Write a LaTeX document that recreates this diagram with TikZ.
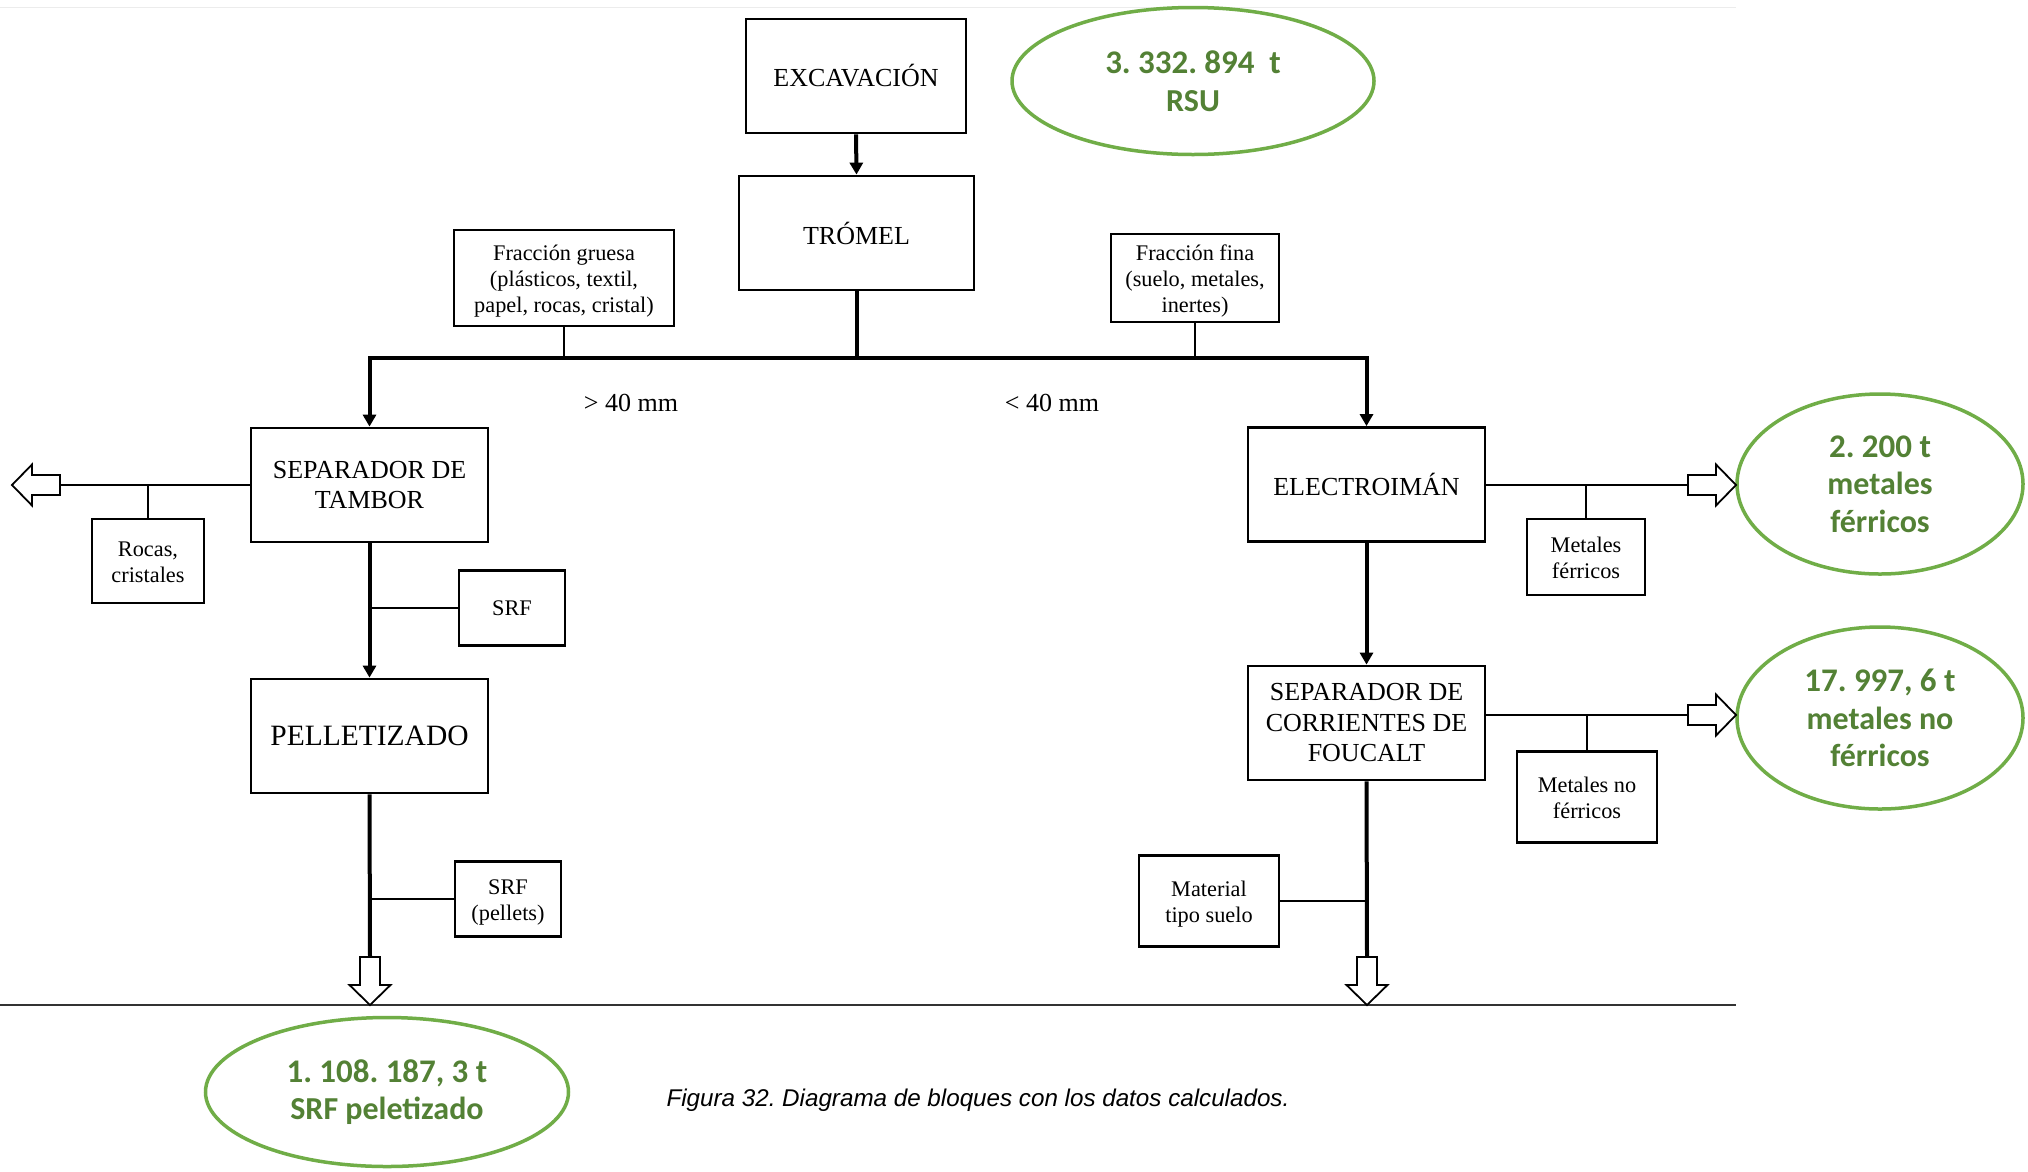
\documentclass[tikz,border=0pt]{standalone}
\usepackage{fontspec}
\setmainfont{Liberation Serif}
\newfontfamily\calib{Carlito}
\newfontfamily\arialf{Liberation Sans}
\usetikzlibrary{arrows.meta,calc,shapes.geometric}
\definecolor{eline}{HTML}{70AD47}
\definecolor{etext}{HTML}{538135}
\frenchspacing
\tikzset{
  box/.style={draw, line width=2.8pt, inner sep=0pt, align=center, fill=white},
  bigbox/.style={box, minimum width=237pt, minimum height=114pt, font=\fontsize{26}{30.5}\selectfont},
  smallbox/.style={box, font=\fontsize{22.3}{26}\selectfont},
  mainline/.style={line width=4pt, line join=miter},
  sideline/.style={line width=2.8pt},
  tip/.style={-{Triangle[length=12pt,width=13pt]}},
  hollow/.style={draw, line width=1.8pt, fill=white, line join=miter},
  hollowarrow/.pic={\path[hollow] (0,-10) -- (28,-10) -- (28,-20.5) -- (48,0) -- (28,20.5) -- (28,10) -- (0,10) -- cycle;},
  result/.style={draw=eline, line width=3.5pt, ellipse, inner sep=0pt, align=center, text=etext,
    font=\calib\bfseries\fontsize{32}{37.5}\selectfont}
}
\newcommand{\gp}{\hspace{0.22em}}
\newcommand{\dn}[1]{\raisebox{-3pt}[\height][\depth]{\begin{tabular}{@{}c@{}}#1\end{tabular}}}
\begin{document}
\begin{tikzpicture}[x=1pt,y=-1pt]
\useasboundingbox[fill=white] (0,0) rectangle (2028,1171);
% faint top rule and bottom rule
\draw[line width=1pt, gray!15] (0,7) -- (1736,7);
\draw[line width=2pt, black!80] (0,1005) -- (1736,1005);

% main boxes
\node[bigbox, minimum width=220pt] (exc) at (856,76) {EXCAVACIÓN};
\node[bigbox, minimum width=235pt] (trom) at (856.5,233) {TRÓMEL};
\node[bigbox] (sept) at (369.5,485) {SEPARADOR DE\\TAMBOR};
\node[bigbox, font=\fontsize{29.5}{34}\selectfont] (pell) at (369.5,736) {PELLETIZADO};
\node[bigbox] (elec) at (1366.5,484.5) {ELECTROIMÁN};
\node[bigbox] (fouc) at (1366.5,723) {SEPARADOR DE\\CORRIENTES DE\\FOUCALT};

% side boxes
\node[smallbox, minimum width=220pt, minimum height=96pt] (fg) at (564,278) {\dn{Fracción gruesa\\(plásticos, textil,\\papel, rocas, cristal)}};
\node[smallbox, minimum width=168pt, minimum height=88pt] (ff) at (1195,278) {\dn{Fracción fina\\(suelo, metales,\\inertes)}};
\node[smallbox, minimum width=112pt, minimum height=84pt] (roc) at (148,561) {\dn{Rocas,\\cristales}};
\node[smallbox, minimum width=106pt, minimum height=75pt] (srf) at (512,608) {SRF};
\node[smallbox, minimum width=106pt, minimum height=75pt] (srfp) at (508,899) {\dn{SRF\\(pellets)}};
\node[smallbox, minimum width=118pt, minimum height=76pt] (mf) at (1586,557) {\dn{Metales\\férricos}};
\node[smallbox, minimum width=140pt, minimum height=91pt] (mnf) at (1587,797) {\dn{Metales no\\férricos}};
\node[smallbox, minimum width=140pt, minimum height=91pt] (mts) at (1209,901) {\dn{Material\\tipo suelo}};

% labels
\node[font=\fontsize{26}{30}\selectfont] (g40) at (631,403) {> 40 mm};
\node[font=\fontsize{26}{30}\selectfont] (l40) at (1052,403) {< 40 mm};

% result ellipses
\node[result, minimum width=362pt, minimum height=147pt] (rsu) at (1193,81)
  {{\fontsize{33}{37}\selectfont 3.\gp332.\gp894\hspace{0.45em}t}\\RSU};
\node[result, minimum width=286pt, minimum height=180pt] (ef) at (1880,484)
  {{\fontsize{33}{37}\selectfont 2.\gp200 t}\\metales\\férricos};
\node[result, minimum width=286pt, minimum height=182pt] (enf) at (1880,718)
  {{\fontsize{33}{37}\selectfont 17.\gp997,\gp6 t}\\metales no\\férricos};
\node[result, minimum width=363pt, minimum height=149pt] (esrf) at (387,1092)
  {{\fontsize{33}{37}\selectfont 1.\gp108.\gp187,\gp3 t}\\SRF peletizado};

% caption
\node[font=\arialf\itshape\fontsize{24.2}{28}\selectfont] (cap) at (978,1100) {Figura 32. Diagrama de bloques con los datos calculados.};

% coordinates
\coordinate (bus) at (856.5,358);
\coordinate (la) at (60,485);
\coordinate (ra) at (1688,485);
\coordinate (rb) at (1688,715);
\coordinate (dl) at (370,957);
\coordinate (dr) at (1367,957);

% connectors
\draw[mainline, tip] (exc.south) -- (trom.north);
\draw[mainline] (trom.south) -- (bus);
\draw[mainline, tip] (bus) -| (sept.north);
\draw[mainline, tip] (bus) -| (elec.north);
\draw[sideline] (fg.south) -- (fg.south |- bus);
\draw[sideline] (ff.south) -- (ff.south |- bus);

\draw[sideline] (sept.west |- la) -- (la);
\draw[sideline] (roc.north) -- (roc.north |- la);
\pic[rotate=180] at (la) {hollowarrow};

\draw[mainline, tip] (sept.south) -- (pell.north);
\draw[sideline] (srf.west) -- (srf.west -| sept.south);
\draw[mainline] (pell.south) -- (dl);
\draw[sideline] (srfp.west) -- (srfp.west -| pell.south);
\pic[rotate=-90] at (dl) {hollowarrow};

\draw[sideline] (elec.east |- ra) -- (ra);
\draw[sideline] (mf.north) -- (mf.north |- ra);
\pic at (ra) {hollowarrow};

\draw[mainline, tip] (elec.south) -- (fouc.north);
\draw[sideline] (fouc.east |- rb) -- (rb);
\draw[sideline] (mnf.north) -- (mnf.north |- rb);
\pic at (rb) {hollowarrow};

\draw[mainline] (fouc.south) -- (dr);
\draw[sideline] (mts.east) -- (mts.east -| fouc.south);
\pic[rotate=-90] at (dr) {hollowarrow};
\end{tikzpicture}
\end{document}
